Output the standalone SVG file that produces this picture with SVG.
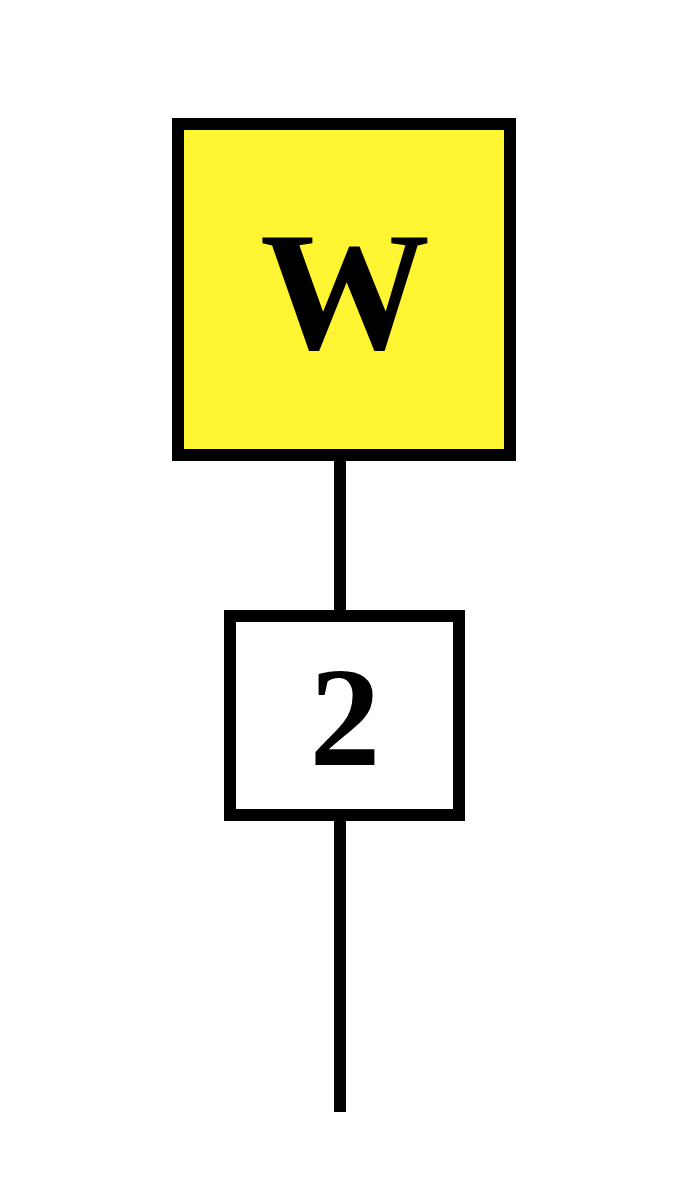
<svg xmlns="http://www.w3.org/2000/svg" width="700" height="1200" viewBox="0 0 700 1200">
<style>
.box{stroke:#000;stroke-width:12}
.lbl{font-family:"Liberation Serif","Times New Roman",serif;font-weight:bold;text-anchor:middle;fill:#000}
.conn{stroke:#000;stroke-width:12;fill:none}
</style>
<rect width="700" height="1200" fill="#fff"/>
<g id="connectors">
<line class="conn" x1="340" y1="455" x2="340" y2="616"/>
<line class="conn" x1="340" y1="815" x2="340" y2="1112"/>
</g>
<g id="node-W">
<rect class="box" x="178" y="124" width="332" height="331" fill="#fff533"/>
<text class="lbl" x="345" y="348" font-size="170">W</text>
</g>
<g id="node-2">
<rect class="box" x="230" y="616" width="229" height="199" fill="#fff"/>
<text class="lbl" x="345" y="765" font-size="142">2</text>
</g>
</svg>
